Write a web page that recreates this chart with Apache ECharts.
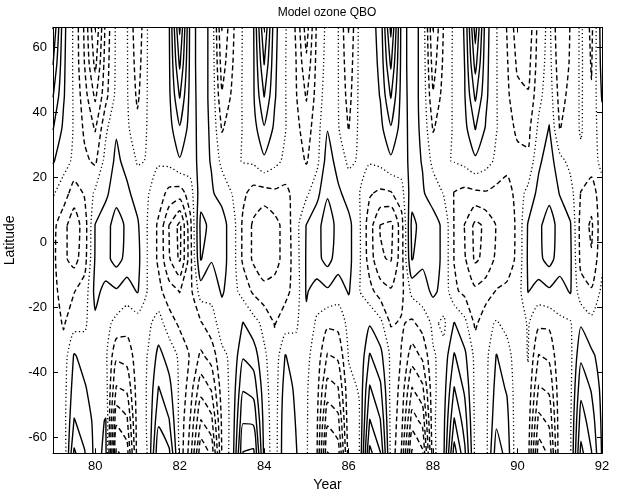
<!DOCTYPE html>
<html>
<head>
<meta charset="utf-8">
<script src="https://cdn.jsdelivr.net/npm/echarts@6/dist/echarts.min.js"></script>
<style>
  html, body { margin: 0; padding: 0; background: #fff; }
  #chart { width: 619px; height: 489px; }
</style>
</head>
<body>
<div id="chart"></div>
<script>
// Time axis of the ozone anomaly grid (years since 1900), quarterly
const years = [79, 79.25, 79.5, 79.75, 80, 80.25, 80.5, 80.75, 81, 81.25,
  81.5, 81.75, 82, 82.25, 82.5, 82.75, 83, 83.25, 83.5, 83.75,
  84, 84.25, 84.5, 84.75, 85, 85.25, 85.5, 85.75, 86, 86.25,
  86.5, 86.75, 87, 87.25, 87.5, 87.75, 88, 88.25, 88.5, 88.75,
  89, 89.25, 89.5, 89.75, 90, 90.25, 90.5, 90.75, 91, 91.25,
  91.5, 91.75, 92];

// Latitudes of the grid rows, north to south
const lats = [66, 55, 45, 35, 25, 15, 5, -5, -15, -25, -35, -45, -55, -65];

// Model ozone QBO anomaly along each latitude row (contour units)
const lat66 = [5.05, 1.3, -0.2, -2.2, -5.05, -1.7, 0.2, 0.1, -1.8, 0.1,
  0.3, 0.9, 5.2, 0.7, 1.3, 0.85, -3.05, -1.2, 0.1, 0.95,
  5.05, 1.3, 0.1, -1.1, -3.5, -0.8, 0.3, 0.05, -2.05, 0.2,
  0.6, 1.3, 5.3, 0.7, 1.3, 0.8, -3.05, -0.95, 0.2, 1.1,
  5.5, 1.4, 0.05, -1.05, -2.6, -2.8, -0.6, 0.3, -2.0, -0.95,
  0.2, -1.3, 1.6];
const lat55 = [4.05, 1.2, -0.2, -2.05, -4.3, -1.5, 0.2, 0.1, -1.5, 0.1,
  0.3, 0.85, 4.2, 0.7, 1.3, 0.85, -2.5, -1.05, 0.1, 0.9,
  4.05, 1.2, 0.05, -0.95, -2.8, -0.7, 0.4, 0.05, -1.7, 0.2,
  0.5, 1.2, 4.2, 0.7, 1.3, 0.8, -2.5, -0.8, 0.2, 1.02,
  4.4, 1.3, 0.05, -0.9, -2.2, -2.4, -0.5, 0.4, -1.7, -0.9,
  0.2, -1.1, 1.4];
const lat45 = [3.05, 1.1, -0.15, -1.6, -3.2, -1.3, 0.3, 0.1, -1.2, 0.1,
  0.3, 0.8, 3.1, 0.65, 1.3, 0.85, -1.9, -0.8, 0.1, 0.9,
  3.05, 1.1, 0.05, -0.9, -2.1, -0.6, 0.6, 0.05, -1.4, 0.2,
  0.4, 1.05, 3.1, 0.65, 1.3, 0.8, -1.9, -0.6, 0.15, 0.95,
  3.2, 1.2, 0.05, -0.8, -1.7, -1.9, -0.3, 0.6, -1.4, -0.7,
  0.15, -0.9, 1.1];
const lat35 = [2.05, 0.8, -0.1, -1.2, -2.1, -0.2, 0.9, 0.2, -0.7, 0.1,
  0.3, 0.6, 1.9, 0.6, 1.3, 0.9, -1.1, -0.5, 0.05, 0.6,
  1.9, 0.8, 0.05, -0.7, -1.5, -0.4, 0.95, 0.1, -1.05, 0.2,
  0.3, 0.7, 1.9, 0.6, 1.3, 0.85, -1.1, -0.4, 0.1, 0.7,
  2.05, 0.9, 0.05, -0.6, -1.2, -1.3, 0.2, 1.05, -1.05, -0.5,
  0.1, -0.6, 0.6];
const lat25 = [1.1, 0.4, -0.2, -0.8, -1.2, 0.4, 1.2, 0.7, -0.1, 0.05,
  0.1, 0.3, 0.9, 0.55, 1.3, 0.95, -0.3, -0.2, 0.05, 0.2,
  0.8, 0.3, -0.2, -0.5, -1.1, -0.3, 1.5, 0.6, -0.2, 0.1,
  0.1, 0.3, 0.8, 0.55, 1.3, 0.95, -0.3, -0.1, 0.05, 0.3,
  0.8, 0.4, -0.2, -0.5, -0.7, -0.8, 0.8, 1.5, 0.3, -0.3,
  -0.2, -0.5, 0.3];
const lat15 = [0.1, -0.5, -1.5, -0.9, 0.2, 0.8, 1.6, 1.2, 0.6, 0.05,
  -0.5, -1.3, -1.5, -0.5, 1.6, 1.1, 0.7, -0.05, -0.8, -1.4,
  -1.4, -1.2, -1.3, -0.6, -0.2, 0.7, 1.9, 1.2, 0.6, 0.05,
  -0.9, -1.2, -1.1, -0.4, 1.6, 1.1, 0.6, -0.05, -1.05, -1.3,
  -1.2, -1.1, -1.3, -1.6, -0.5, 0.3, 1.3, 1.7, 0.95, 0.4,
  -1.05, -1.5, -0.4];
const lat05 = [-0.7, -1.7, -2.6, -1.5, 1.05, 1.6, 2.5, 1.8, 1.15, -0.1,
  -1.2, -3.05, -4.3, -1.3, 2.3, 1.75, 1.4, 0.5, -1.2, -2.2,
  -2.95, -2.4, -1.6, -0.4, 1.05, 1.7, 2.5, 1.7, 1.3, 0.2,
  -1.6, -3.05, -3.3, -1.5, 2.3, 1.6, 1.4, 0.8, -1.05, -2.05,
  -3.3, -2.8, -1.95, -1.6, -0.8, 1.1, 1.8, 2.5, 1.6, 1.1,
  -1.4, -2.2, -0.3];
const latS05 = [-0.75, -1.8, -2.4, -1.4, 1.1, 1.7, 2.4, 1.7, 1.3, -0.1,
  -1.2, -2.9, -4.2, -1.4, 2.1, 1.1, 1.4, 0.5, -1.2, -2.2,
  -2.9, -2.4, -1.6, -0.5, 1.1, 1.7, 2.4, 1.5, 1.3, 0.2,
  -1.5, -2.9, -3.1, -1.5, 2.1, 1.2, 1.4, 0.8, -1.05, -1.9,
  -3.2, -2.7, -1.8, -1.5, -0.8, 1.15, 1.75, 2.4, 1.5, 1.2,
  -1.3, -1.9, -0.2];
const latS15 = [-0.7, -1.4, -1.05, -0.6, 1.3, 0.7, 0.9, 0.5, 1.1, -0.1,
  -0.7, -1.6, -2.05, -1.3, 0.5, 0.3, 1.15, 0.4, -0.4, -1.2,
  -1.6, -1.6, -1.3, -0.6, 1.1, 0.6, 0.85, 0.5, 1.1, 0.05,
  -0.7, -1.5, -1.9, -1.3, 0.3, 0.6, 1.2, 0.7, -0.8, -1.3,
  -1.8, -1.5, -0.95, -0.8, -0.5, 1.05, 0.6, 0.85, 0.6, 1.1,
  -0.6, -0.9, 0.2];
const latS25 = [-0.5, -1.1, -0.4, -0.2, 0.8, 0.3, -0.3, -0.6, -0.5, -0.2,
  0.4, -0.5, -1.2, -1.3, -1.1, -0.4, 0.4, 0.05, 1.05, 0.4,
  -0.3, -1.05, -0.5, -0.2, 0.8, -0.2, -0.8, -0.7, 0.3, 0.05,
  0.9, 0.3, -1.1, -0.9, -1.2, -0.6, 0.2, -0.2, 1.05, 0.3,
  -1.2, -0.3, 0.1, -0.3, -0.6, 0.1, -0.8, -0.8, -0.2, -0.1,
  0.9, 0.3, 0.5];
const latS35 = [-0.6, -0.6, 1.1, 0.6, 0.4, 0.2, -1.8, -1.6, -0.5, 0.05,
  1.3, 0.6, -0.2, -1.1, -2.2, -1.6, -0.2, 0.2, 1.9, 1.5,
  0.2, -0.7, 1.05, 0.5, 0.2, -0.4, -2.1, -1.8, 0.05, 0.05,
  2.1, 1.3, -0.2, -1.05, -2.5, -1.8, -0.1, 0.3, 2.1, 1.2,
  -0.3, -0.3, 1.05, 0.4, -0.6, 0.05, -2.05, -1.8, -0.2, -0.3,
  1.8, 1.2, 0.6];
const latS45 = [-0.5, -0.5, 1.5, 1.1, 0.5, 0.5, -3.1, -2.8, -0.5, 0.1,
  2.05, 1.3, -0.2, -1.5, -3.6, -2.9, -0.5, 0.3, 2.9, 2.6,
  0.4, -0.6, 1.5, 0.8, 0.1, -0.6, -3.4, -3.05, -0.2, 0.05,
  3.1, 2.2, -0.3, -1.3, -4.05, -3.2, -0.2, 0.5, 3.05, 1.8,
  -0.3, -0.3, 1.4, 0.9, -0.7, -0.2, -3.1, -2.8, -0.3, -0.3,
  2.7, 1.9, 0.7];
const latS55 = [-0.5, -0.5, 2.05, 1.6, 0.7, 1.05, -4.8, -4.2, -0.5, 0.1,
  2.8, 2.05, -0.3, -2.05, -5.05, -4.3, -0.8, 0.4, 3.9, 3.8,
  0.6, -0.6, 1.8, 0.95, 0.1, -0.8, -4.8, -4.3, -0.3, -0.1,
  4.05, 3.05, -0.3, -1.6, -5.5, -4.7, -0.2, 0.7, 4.1, 2.5,
  -0.3, -0.3, 1.8, 1.3, -0.8, -0.4, -4.3, -3.8, -0.3, -0.2,
  3.5, 2.5, 0.8];
const latS65 = [-0.5, -0.9, 3.2, 2.05, 0.7, 1.2, -6.2, -5.5, -0.5, 0.05,
  3.9, 3.2, -0.3, -2.5, -6.8, -5.8, -0.9, 0.5, 5.05, 5.2,
  0.7, -0.6, 1.9, 1.1, 0.1, -0.9, -6.05, -5.5, -0.5, -0.1,
  5.3, 4.05, -0.3, -2.05, -7.2, -6.2, -0.3, 0.8, 5.5, 3.2,
  -0.3, -0.4, 2.6, 1.6, -0.9, -0.6, -5.6, -4.8, -0.2, -0.2,
  4.3, 3.05, 0.9];

// Contour levels: positive solid, zero dotted, negative dashed
const levels = [-7, -6, -5, -4, -3, -2, -1, 0, 1, 2, 3, 4, 5, 6, 7];

// Tick positions
const yearTicks = [80, 82, 84, 86, 88, 90, 92];
const latTicks = [-60, -40, -20, 0, 20, 40, 60];

const field = [lat66, lat55, lat45, lat35, lat25, lat15, lat05,
  latS05, latS15, latS25, latS35, latS45, latS55, latS65];

// Marching squares on the year/latitude grid; returns chained polylines in data units
function contourLines(level) {
  const R = lats.length, C = years.length;
  const v = (r, c) => field[r][c];
  const inside = x => x >= level;
  const cross = (r1, c1, r2, c2) => {
    const a = v(r1, c1), b = v(r2, c2);
    const f = (level - a) / (b - a);
    return [years[c1] + f * (years[c2] - years[c1]), lats[r1] + f * (lats[r2] - lats[r1])];
  };
  const segs = [];
  for (let r = 0; r < R - 1; r++) {
    for (let c = 0; c < C - 1; c++) {
      const tl = v(r, c), tr = v(r, c + 1), br = v(r + 1, c + 1), bl = v(r + 1, c);
      const idx = (inside(tl) ? 8 : 0) | (inside(tr) ? 4 : 0) | (inside(br) ? 2 : 0) | (inside(bl) ? 1 : 0);
      if (idx === 0 || idx === 15) continue;
      const edge = {
        t: () => ['h' + r + '_' + c, cross(r, c, r, c + 1)],
        b: () => ['h' + (r + 1) + '_' + c, cross(r + 1, c, r + 1, c + 1)],
        l: () => ['v' + r + '_' + c, cross(r, c, r + 1, c)],
        r: () => ['v' + r + '_' + (c + 1), cross(r, c + 1, r + 1, c + 1)]
      };
      const mid = inside((tl + tr + br + bl) / 4);
      let pairs;
      switch (idx) {
        case 1: case 14: pairs = [['l', 'b']]; break;
        case 2: case 13: pairs = [['b', 'r']]; break;
        case 3: case 12: pairs = [['l', 'r']]; break;
        case 4: case 11: pairs = [['t', 'r']]; break;
        case 6: case 9: pairs = [['t', 'b']]; break;
        case 7: case 8: pairs = [['l', 't']]; break;
        case 5: pairs = mid ? [['l', 't'], ['b', 'r']] : [['l', 'b'], ['t', 'r']]; break;
        case 10: pairs = mid ? [['t', 'r'], ['l', 'b']] : [['l', 't'], ['b', 'r']]; break;
      }
      for (const [e1, e2] of pairs) {
        const a = edge[e1](), b = edge[e2]();
        segs.push({ k: [a[0], b[0]], p: [a[1], b[1]] });
      }
    }
  }
  const byKey = new Map();
  segs.forEach((s, i) => s.k.forEach(k => {
    if (!byKey.has(k)) byKey.set(k, []);
    byKey.get(k).push(i);
  }));
  const used = new Array(segs.length).fill(false);
  const out = [];
  for (let i = 0; i < segs.length; i++) {
    if (used[i]) continue;
    used[i] = true;
    const keys = [segs[i].k[0], segs[i].k[1]];
    const pts = [segs[i].p[0], segs[i].p[1]];
    const grow = atEnd => {
      for (;;) {
        const k = atEnd ? keys[keys.length - 1] : keys[0];
        const j = (byKey.get(k) || []).find(n => !used[n]);
        if (j === undefined) break;
        used[j] = true;
        const s = segs[j];
        const first = s.k[0] === k;
        const nk = first ? s.k[1] : s.k[0];
        const np = first ? s.p[1] : s.p[0];
        if (atEnd) { keys.push(nk); pts.push(np); } else { keys.unshift(nk); pts.unshift(np); }
      }
    };
    grow(true);
    grow(false);
    out.push(pts);
  }
  return out;
}

const ink = '#000';
const series = [];
levels.forEach(level => {
  let style;
  if (level > 0) style = { color: ink, width: 1.4, type: 'solid' };
  else if (level < 0) style = { color: ink, width: 1.4, type: [5, 3] };
  else style = { color: ink, width: 1.3, type: [1.2, 2.6] };
  contourLines(level).forEach(pts => {
    series.push({
      type: 'line',
      data: pts,
      showSymbol: false,
      symbol: 'none',
      smooth: 0.2,
      silent: true,
      animation: false,
      lineStyle: style,
      z: 2
    });
  });
});

const font = 'Liberation Sans, Arial, Helvetica, sans-serif';
const chart = echarts.init(document.getElementById('chart'), null, { renderer: 'canvas' });
chart.setOption({
  animation: false,
  backgroundColor: '#fff',
  grid: { left: 53, right: 17, top: 27.5, bottom: 35.7, containLabel: false, outerBoundsMode: 'none' },
  graphic: [{
    type: 'text',
    x: 327, y: 13,
    style: { text: 'Model ozone QBO', fill: '#000', font: '12px ' + font, textAlign: 'center', textVerticalAlign: 'middle' }
  }],
  xAxis: [{
    type: 'value', min: 79, max: 92, position: 'bottom',
    axisLine: { show: true, onZero: false, lineStyle: { color: '#000', width: 1 } },
    axisTick: { show: true, inside: true, length: 5, customValues: yearTicks, lineStyle: { color: '#000' } },
    axisLabel: { customValues: yearTicks, color: '#000', fontSize: 13, fontFamily: font, margin: 7 },
    splitLine: { show: false },
    name: 'Year', nameLocation: 'middle', nameGap: 20,
    nameTextStyle: { color: '#000', fontSize: 14, fontFamily: font, verticalAlign: 'top' }
  }, {
    type: 'value', min: 79, max: 92, position: 'top',
    axisLine: { show: true, onZero: false, lineStyle: { color: '#000', width: 1 } },
    axisTick: { show: true, inside: true, length: 5, customValues: yearTicks, lineStyle: { color: '#000' } },
    axisLabel: { show: false },
    splitLine: { show: false }
  }],
  yAxis: [{
    type: 'value', min: -65, max: 66, position: 'left',
    axisLine: { show: true, onZero: false, lineStyle: { color: '#000', width: 1 } },
    axisTick: { show: true, inside: true, length: 5, customValues: latTicks, lineStyle: { color: '#000' } },
    axisLabel: { customValues: latTicks, color: '#000', fontSize: 13, fontFamily: font, margin: 6 },
    splitLine: { show: false },
    name: 'Latitude', nameLocation: 'middle', nameGap: 33,
    nameTextStyle: { color: '#000', fontSize: 14, fontFamily: font }
  }, {
    type: 'value', min: -65, max: 66, position: 'right',
    axisLine: { show: true, onZero: false, lineStyle: { color: '#000', width: 1 } },
    axisTick: { show: true, inside: true, length: 5, customValues: latTicks, lineStyle: { color: '#000' } },
    axisLabel: { show: false },
    splitLine: { show: false }
  }],
  series: series
});
</script>
</body>
</html>
